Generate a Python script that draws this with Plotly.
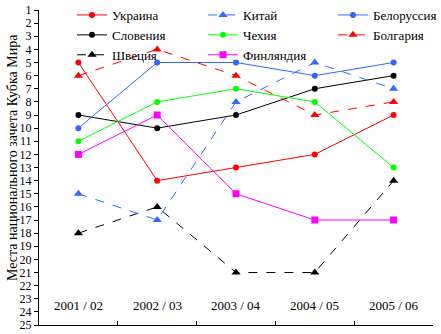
import plotly.graph_objects as go

seasons = ["2001 / 02", "2002 / 03", "2003 / 04", "2004 / 05", "2005 / 06"]
ukraine = [5, 14, 13, 12, 9]
china = [15, 17, 8, 5, 7]
belarus = [10, 5, 5, 6, 5]
slovenia = [9, 10, 9, 7, 6]
czech = [11, 8, 7, 8, 13]
bulgaria = [6, 4, 6, 9, 8]
sweden = [18, 16, 21, 21, 14]
finland = [12, 9, 15, 17, 17]
y_ticks = list(range(1, 26))
label_level = 23.5
y_title = "Места национального зачета Кубка Мира"

RED = "#FF0000"
BLUE = "#3366FF"
GREEN = "#00FF00"
BLACK = "#000000"
MAGENTA = "#FF00FF"

series = [
    ("Украина", ukraine, RED, "solid", "circle", 6, "legend"),
    ("Словения", slovenia, BLACK, "solid", "circle", 6, "legend"),
    ("Швеция", sweden, BLACK, "dash", "triangle-up", 8, "legend"),
    ("Китай", china, BLUE, "dash", "triangle-up", 8, "legend2"),
    ("Чехия", czech, GREEN, "solid", "circle", 6, "legend2"),
    ("Финляндия", finland, MAGENTA, "solid", "square", 7, "legend2"),
    ("Белоруссия", belarus, BLUE, "solid", "circle", 6, "legend3"),
    ("Болгария", bulgaria, RED, "dash", "triangle-up", 8, "legend3"),
]

FONT = "'Liberation Serif', 'Times New Roman', serif"

fig = go.Figure()
for name, vals, col, dash, sym, size, leg in series:
    fig.add_trace(go.Scatter(
        x=seasons, y=vals, name=name, mode="lines+markers",
        line=dict(color=col, width=1, dash=dash),
        marker=dict(color=col, symbol=sym, size=size),
        legend=leg,
    ))

for s in seasons:
    fig.add_annotation(x=s, y=label_level, xref="x", yref="y", text=s,
                       showarrow=False, font=dict(family=FONT, size=13))

fig.add_annotation(x=-27 / 394, y=0.53, xref="paper", yref="paper",
                   xanchor="center", yanchor="middle",
                   text=y_title, textangle=-90, showarrow=False,
                   font=dict(family=FONT, size=14))

legend_common = dict(
    xref="container", yref="container", yanchor="top", xanchor="left",
    bgcolor="rgba(0,0,0,0)", font=dict(family=FONT, size=13, color="black"),
    tracegroupgap=0, itemwidth=30,
)
fig.update_layout(
    width=441, height=334,
    margin=dict(l=39, r=8, t=10, b=9, autoexpand=False),
    paper_bgcolor="white", plot_bgcolor="white",
    font=dict(family=FONT, size=13, color="black"),
    legend=dict(x=72 / 441, y=1 + 6 / 334, **legend_common),
    legend2=dict(x=203 / 441, y=1 + 6 / 334, **legend_common),
    legend3=dict(x=333 / 441, y=1 + 6 / 334, **legend_common),
    xaxis=dict(
        type="category", categoryorder="array", categoryarray=seasons,
        range=[-0.5, 4.5], tickson="boundaries", ticks="inside", ticklen=4,
        tickcolor="black", showline=True, linecolor="black", linewidth=1,
        showgrid=False, zeroline=False, showticklabels=False,
    ),
    yaxis=dict(
        range=[25, 1], tickvals=y_ticks, ticks="outside", ticklen=4,
        tickcolor="black", showline=True, linecolor="black", linewidth=1,
        showgrid=False, zeroline=False, tickfont=dict(family=FONT, size=12),
        automargin=False,
    ),
)

fig.write_html("out.html")
